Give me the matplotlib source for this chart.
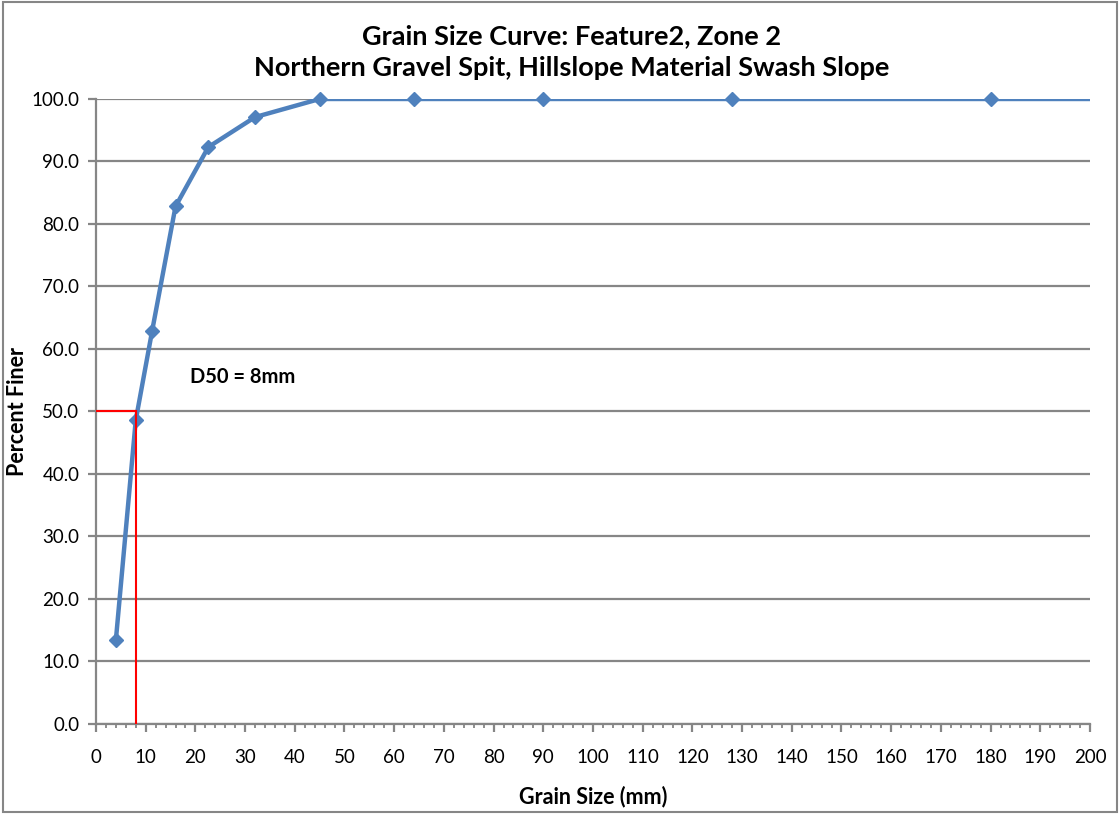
import numpy as np
import matplotlib
matplotlib.use('Agg')
import matplotlib.pyplot as plt
from matplotlib.ticker import MultipleLocator, FormatStrFormatter
from matplotlib.patches import Rectangle

plt.rcParams['font.family'] = ['Lato', 'DejaVu Sans']

# Sieve sizes (mm) and cumulative percent finer
grain_size = [4, 8, 11.3, 16, 22.6, 32, 45, 64, 90, 128, 180, 256]
percent_finer = [13.4, 48.6, 62.9, 82.8, 92.3, 97.1, 100.0, 100.0, 100.0, 100.0, 100.0, 100.0]

d50_size = 8
d50_percent = 50

title = "Grain Size Curve: Feature2, Zone 2\nNorthern Gravel Spit, Hillslope Material Swash Slope"

grey = '#868686'
blue = '#4F81BD'

fig = plt.figure(figsize=(11.2, 8.14), dpi=100)
ax = fig.add_axes([0.0857, 0.1106, 0.8875, 0.7678])

# grid
ax.yaxis.grid(True, color=grey, linewidth=1.6)
ax.set_axisbelow(True)

x = np.array(grain_size)
y = np.array(percent_finer)
ax.plot(x, y, color=blue, linewidth=3.2, zorder=3)
inside = x <= 200
ax.plot(x[inside], y[inside], linestyle='none', marker='D', markersize=7.5,
        color=blue, clip_on=False, zorder=3)

# D50 marker lines
ax.plot([0, d50_size], [d50_percent, d50_percent], color='#FF0000', linewidth=1.5, zorder=4)
ax.plot([d50_size, d50_size], [0, d50_percent], color='#FF0000', linewidth=1.5, zorder=4)
ax.text(19, 55.5, "D50 = 8mm", fontsize=14.5, fontweight='bold', va='center', ha='left')

ax.set_xlim(0, 200)
ax.set_ylim(0, 100)
ax.xaxis.set_major_locator(MultipleLocator(10))
ax.xaxis.set_minor_locator(MultipleLocator(2))
ax.yaxis.set_major_locator(MultipleLocator(10))
ax.yaxis.set_major_formatter(FormatStrFormatter('%.1f'))

for s in ['top', 'right']:
    ax.spines[s].set_visible(False)
for s in ['left', 'bottom']:
    ax.spines[s].set_color(grey)
    ax.spines[s].set_linewidth(1.6)

ax.tick_params(axis='both', which='major', direction='out', length=6, width=1.6,
               color=grey, labelsize=13.5, pad=6)
ax.tick_params(axis='x', which='major', pad=12)
ax.tick_params(axis='x', which='minor', direction='out', length=3, width=1.3, color=grey)

ax.set_xlabel("Grain Size (mm)", fontsize=15.5, fontweight='bold', labelpad=14)
ax.set_ylabel("Percent Finer", fontsize=15.5, fontweight='bold')
ax.yaxis.set_label_coords(-0.068, 0.5)

fig.suptitle(title, fontsize=19.5, fontweight='bold', x=0.51, y=0.97, linespacing=1.4)

# outer chart border
fig.patches.append(Rectangle((0.003, 0.003), 0.994, 0.994, transform=fig.transFigure,
                             fill=False, edgecolor=grey, linewidth=1.5))

fig.savefig('out.png', dpi=100)
